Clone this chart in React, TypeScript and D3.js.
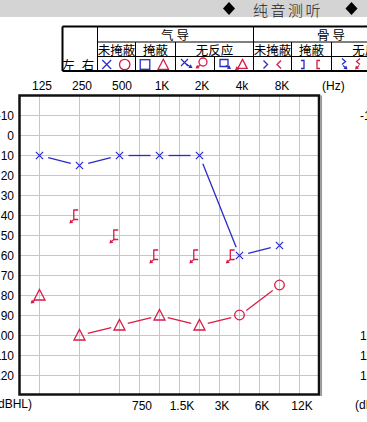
import React, { useEffect, useRef } from 'react';
import * as d3 from 'd3';

// frequency axis
const topFreqs = [125, 250, 500, 1000, 2000, 4000, 8000];
const topLabels = ['125', '250', '500', '1K', '2K', '4k', '8K'];
const midBaseFreqs = [500, 1000, 2000, 4000, 8000]; // half octave above these
const midLabels = ['750', '1.5K', '3K', '6K', '12K'];
const dbTicks = [-10, 0, 10, 20, 30, 40, 50, 60, 70, 80, 90, 100, 110, 120];
const leftTickText = ['-10', '0', '10', '20', '30', '40', '50', '60', '70', '80', '90', '100', '110', '120'];
const rightTickText = ['-10', '100', '110', '120'];
const rightTickDb = [-10, 100, 110, 120];

// left ear, air, unmasked (blue X)
const leftAirFreqs = [125, 250, 500, 1000, 2000, 4000, 8000];
const leftAirDb = [10, 15, 10, 10, 10, 60, 55];
// right ear, air, masked (red triangle)
const rightAirMaskedFreqs = [250, 500, 1000, 2000];
const rightAirMaskedDb = [100, 95, 90, 95];
// right ear, air, masked, no response
const rightAirMaskedNrFreqs = [125];
const rightAirMaskedNrDb = [80];
// right ear, air, unmasked (red circle)
const rightAirFreqs = [4000, 8000];
const rightAirDb = [90, 75];
// right ear, bone, masked, no response (red [ with arrow)
const rightBoneNrFreqs = [250, 500, 1000, 2000, 4000];
const rightBoneNrDb = [40, 50, 60, 60, 60];

const RED = '#d81b48';
const BLUE = '#2a2ac6';
const GRID = '#c6c6c6';
const CJK = '"Noto Sans CJK SC", sans-serif';
const LAT = '"Liberation Sans", Arial, sans-serif';

const App = () => {
  const svgRef = useRef(null);

  useEffect(() => {
    const svg = d3.select(svgRef.current);
    svg.selectAll('*').remove();

    const x = d3.scaleLog().base(2).domain([125, 8000]).range([39.5, 279.5]);
    const y = d3.scaleLinear().domain([-10, 120]).range([115.5, 375.5]);

    const fl = x(125 / Math.SQRT2);
    const fr = x(16000) - 0.5;
    const ft = y(-20);
    const fb = y(129.5);

    // ---- header band
    svg.append('rect').attr('x', 0).attr('y', 0).attr('width', 367).attr('height', 17).attr('fill', '#d4d4d4');
    [229, 351.5].forEach(cx => {
      svg.append('path')
        .attr('d', `M${cx},${2}L${cx + 6},${8.5}L${cx},${15}L${cx - 6},${8.5}Z`)
        .attr('fill', '#000');
    });
    svg.append('text')
      .attr('x', 288).attr('y', 9)
      .attr('text-anchor', 'middle').attr('dominant-baseline', 'central')
      .attr('font-family', CJK).attr('font-size', 15).attr('letter-spacing', 2.5)
      .attr('font-weight', 300).attr('fill', '#222')
      .text('纯音测听');

    // ---- legend table
    const tb = svg.append('g');
    const tL = 62.5, tT = 26.5, tB = 71, r1 = 42, r2 = 56.5;
    const hline = (x1, x2, yy, w = 1) =>
      tb.append('line').attr('x1', x1).attr('x2', x2).attr('y1', yy).attr('y2', yy).attr('stroke', '#000').attr('stroke-width', w);
    const vline = (xx, y1, y2, w = 1) =>
      tb.append('line').attr('x1', xx).attr('x2', xx).attr('y1', y1).attr('y2', y2).attr('stroke', '#000').attr('stroke-width', w);
    hline(tL, 420, tT, 2);
    hline(tL, 420, tB, 2);
    vline(tL, tT, tB, 2);
    hline(97.5, 420, r1);
    hline(97.5, 420, r2);
    vline(97.5, tT, tB);
    vline(253.5, tT, tB);
    [135.5, 175.5, 291.5, 331.5].forEach(v => vline(v, r1, tB));
    vline(214.5, r2, tB);
    const ttext = (t, cx, cy) =>
      tb.append('text').attr('x', cx).attr('y', cy)
        .attr('text-anchor', 'middle').attr('dominant-baseline', 'central')
        .attr('font-family', CJK).attr('font-size', 12.5).text(t);
    ttext('气 导', 175, 34.5);
    ttext('骨 导', 331, 34.5);
    ttext('未掩蔽', 116.5, 49.5);
    ttext('掩蔽', 155.5, 49.5);
    ttext('无反应', 214.5, 49.5);
    ttext('未掩蔽', 272.5, 49.5);
    ttext('掩蔽', 311.5, 49.5);
    ttext('无反应', 371, 49.5);
    ttext('左', 68.5, 64);
    ttext('右', 88, 64);

    // ---- marker helpers
    const arrow = (g, x1, y1, x2, y2, color) => {
      const dx = x2 - x1, dy = y2 - y1, L = Math.hypot(dx, dy);
      const ux = dx / L, uy = dy / L, nx = -uy, ny = ux, h = 3.5, w = 2.2;
      g.append('line').attr('x1', x1).attr('y1', y1).attr('x2', x2 - ux * 2).attr('y2', y2 - uy * 2)
        .attr('stroke', color).attr('stroke-width', 1.2);
      g.append('path')
        .attr('d', `M${x2},${y2}L${x2 - ux * h + nx * w},${y2 - uy * h + ny * w}L${x2 - ux * h - nx * w},${y2 - uy * h - ny * w}Z`)
        .attr('fill', color);
    };
    const markX = (g, cx, cy, s, color) =>
      g.append('path').attr('d', `M${cx - s},${cy - s}L${cx + s},${cy + s}M${cx + s},${cy - s}L${cx - s},${cy + s}`)
        .attr('stroke', color).attr('stroke-width', 1.2).attr('fill', 'none');
    const markO = (g, cx, cy, r, color) =>
      g.append('circle').attr('cx', cx).attr('cy', cy).attr('r', r)
        .attr('stroke', color).attr('stroke-width', 1.3).attr('fill', 'none');
    const markTri = (g, cx, cy, color, s = 1) =>
      g.append('path').attr('d', `M${cx},${cy - 6 * s}L${cx + 5.5 * s},${cy + 4.5 * s}L${cx - 5.5 * s},${cy + 4.5 * s}Z`)
        .attr('stroke', color).attr('stroke-width', 1.3).attr('fill', 'none');
    const markSq = (g, cx, cy, s, color) =>
      g.append('rect').attr('x', cx - s).attr('y', cy - s).attr('width', 2 * s).attr('height', 2 * s)
        .attr('stroke', color).attr('stroke-width', 1.3).attr('fill', 'none');
    const markPath = (g, d, color) =>
      g.append('path').attr('d', d).attr('stroke', color).attr('stroke-width', 1.3).attr('fill', 'none');

    // legend symbols
    const ly = 64.5;
    markX(tb, 106.7, ly, 4.5, BLUE);
    markO(tb, 124.7, ly, 5.2, RED);
    markSq(tb, 145, ly, 4.8, BLUE);
    markTri(tb, 163.3, ly + 0.5, RED, 0.95);
    markX(tb, 184.5, ly - 2, 3.5, BLUE);
    arrow(tb, 186, ly - 0.5, 192.5, ly + 3.5, BLUE);
    markO(tb, 203, ly - 2.5, 4, RED);
    arrow(tb, 200.5, ly + 0.5, 195.5, ly + 4, RED);
    markPath(tb, `M${220},${ly - 5}H${228}V${ly + 2}H${220}Z`, BLUE);
    arrow(tb, 226, ly + 1, 231, ly + 4.5, BLUE);
    markTri(tb, 242.5, ly, RED, 0.85);
    arrow(tb, 238.5, ly + 3, 235, ly + 5.5, RED);
    markPath(tb, `M${263.5},${ly - 4}L${267.5},${ly}L${263.5},${ly + 4}`, BLUE);
    markPath(tb, `M${281},${ly - 4}L${277},${ly}L${281},${ly + 4}`, RED);
    markPath(tb, `M${301},${ly - 4}H${304}V${ly + 4}H${301}`, BLUE);
    markPath(tb, `M${320},${ly - 4}H${317}V${ly + 4}H${320}`, RED);
    markPath(tb, `M${342},${ly - 6}L${345.5},${ly - 3}L${342},${ly}`, BLUE);
    arrow(tb, 343, ly + 1, 347.5, ly + 5, BLUE);
    markPath(tb, `M${360},${ly - 6}L${356.5},${ly - 3}L${360},${ly}`, RED);
    arrow(tb, 359, ly + 1, 355, ly + 5, RED);

    // ---- audiogram grid
    const grid = svg.append('g');
    const vFreqs = topFreqs.concat(midBaseFreqs.map(f => f * Math.SQRT2));
    grid.selectAll('.vg').data(vFreqs).enter().append('line')
      .attr('x1', d => x(d)).attr('x2', d => x(d)).attr('y1', ft).attr('y2', fb)
      .attr('stroke', GRID).attr('stroke-width', 1);
    grid.selectAll('.hg').data(dbTicks).enter().append('line')
      .attr('x1', fl).attr('x2', fr).attr('y1', d => y(d)).attr('y2', d => y(d))
      .attr('stroke', GRID).attr('stroke-width', 1);

    // frame
    svg.append('line').attr('x1', fr + 2.3).attr('x2', fr + 2.3).attr('y1', ft).attr('y2', fb + 1.5)
      .attr('stroke', '#9a9a9a').attr('stroke-width', 1.5);
    svg.append('rect').attr('x', fl).attr('y', ft).attr('width', fr - fl).attr('height', fb - ft)
      .attr('fill', 'none').attr('stroke', '#111').attr('stroke-width', 2.5);

    // axis labels
    const lab = svg.append('g').attr('font-family', LAT).attr('font-size', 12).attr('fill', '#000');
    lab.selectAll('.tl').data(topFreqs).enter().append('text')
      .attr('x', d => x(d) + 2.5).attr('y', 90).attr('text-anchor', 'middle')
      .text((d, i) => topLabels[i]);
    lab.append('text').attr('x', 322).attr('y', 90).text('(Hz)');
    lab.selectAll('.bl').data(midBaseFreqs).enter().append('text')
      .attr('x', d => x(d * Math.SQRT2) + 2.5).attr('y', 409.5).attr('text-anchor', 'middle')
      .text((d, i) => midLabels[i]);
    lab.selectAll('.ll').data(dbTicks).enter().append('text')
      .attr('x', 14).attr('y', d => y(d) + 4.5).attr('text-anchor', 'end')
      .text((d, i) => leftTickText[i]);
    lab.append('text').attr('x', 32).attr('y', 408).attr('text-anchor', 'end').text('(dBHL)');
    lab.selectAll('.rl').data(rightTickDb).enter().append('text')
      .attr('x', 360).attr('y', d => y(d) + 4.5)
      .text((d, i) => rightTickText[i]);
    lab.append('text').attr('x', 355).attr('y', 409).text('(dBHL)');

    // ---- data
    const plot = svg.append('g');
    const gapLine = (pts, gap, color) => {
      for (let i = 0; i < pts.length - 1; i++) {
        const [x1, y1] = pts[i], [x2, y2] = pts[i + 1];
        const L = Math.hypot(x2 - x1, y2 - y1), ux = (x2 - x1) / L, uy = (y2 - y1) / L;
        plot.append('line')
          .attr('x1', x1 + ux * gap).attr('y1', y1 + uy * gap)
          .attr('x2', x2 - ux * gap).attr('y2', y2 - uy * gap)
          .attr('stroke', color).attr('stroke-width', 1.3);
      }
    };

    const leftPts = leftAirFreqs.map((f, i) => [x(f), y(leftAirDb[i])]);
    gapLine(leftPts, 9, BLUE);
    leftPts.forEach(([cx, cy]) => markX(plot, cx, cy, 3.6, BLUE));

    const rightPts = rightAirMaskedFreqs.map((f, i) => ({ f, db: rightAirMaskedDb[i], k: 'tri' }))
      .concat(rightAirFreqs.map((f, i) => ({ f, db: rightAirDb[i], k: 'o' })))
      .sort((a, b) => a.f - b.f);
    gapLine(rightPts.map(p => [x(p.f), y(p.db)]), 8.5, RED);
    rightPts.forEach(p => {
      if (p.k === 'tri') markTri(plot, x(p.f), y(p.db), RED);
      else markO(plot, x(p.f), y(p.db) - 0.5, 4.8, RED);
    });

    rightAirMaskedNrFreqs.forEach((f, i) => {
      const cx = x(f), cy = y(rightAirMaskedNrDb[i]);
      markTri(plot, cx, cy, RED);
      arrow(plot, cx - 4.5, cy + 4.5, cx - 9, cy + 8, RED);
    });

    rightBoneNrFreqs.forEach((f, i) => {
      const db = rightBoneNrDb[i];
      const clash = leftAirFreqs.some((lf, j) => lf === f && leftAirDb[j] === db);
      const bx = x(f) - 5.7 - (clash ? 3.5 : 0), cy = y(db);
      markPath(plot, `M${bx + 4.4},${cy - 5.5}H${bx}V${cy + 4}H${bx + 4.4}`, RED);
      arrow(plot, bx, cy + 4, bx - 4.5, cy + 8, RED);
    });
  }, []);

  return (
    <svg ref={svgRef} width={367} height={422}
      style={{ position: 'fixed', left: 0, top: 0, background: '#fff' }} />
  );
};

export default App;
